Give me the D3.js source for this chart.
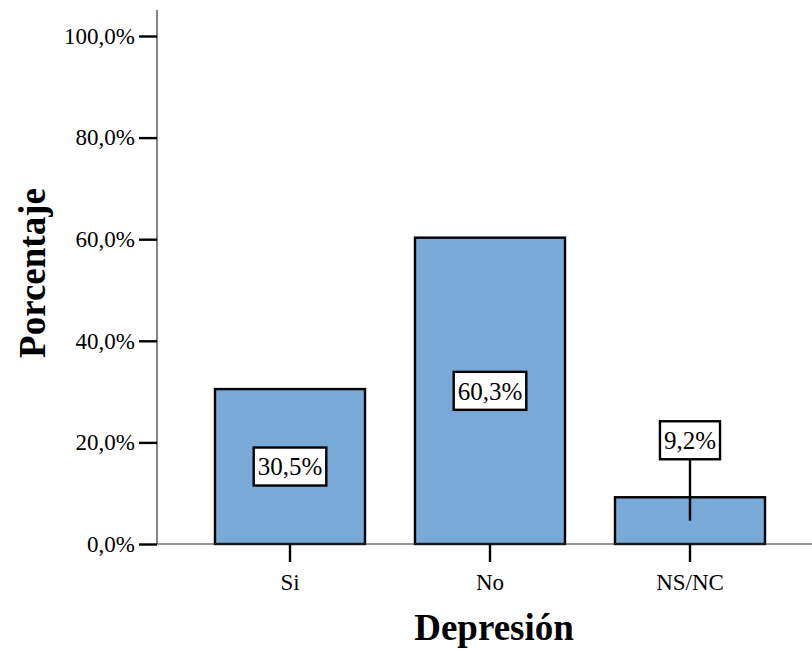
<!DOCTYPE html>
<html>
<head>
<meta charset="utf-8">
<script src="https://cdn.jsdelivr.net/npm/d3@7"></script>
<style>
  body { margin: 0; background: #fff; }
  svg, svg text { font-family: 'Liberation Serif', 'Times New Roman', serif; }
</style>
</head>
<body>
<svg width="812" height="651"></svg>
<script>
var categorias = ["Si", "No", "NS/NC"];
var porcentajes = [30.5, 60.3, 9.2];
var ticksY = [0, 20, 40, 60, 80, 100];

var serif = "'Liberation Serif', 'Times New Roman', serif";
var svg = d3.select("svg");

var es = d3.formatLocale({decimal: ",", thousands: ".", grouping: [3], currency: ["", " €"]});
var fmt = es.format(".1f");

var y = d3.scaleLinear().domain([0, 100]).range([544, 36]);
var x = d3.scaleBand()
    .domain(categorias)
    .range([190, 790])
    .paddingInner(0.25)
    .paddingOuter(0.125);

// ejes
svg.append("line")
    .attr("x1", 157).attr("x2", 157)
    .attr("y1", 10).attr("y2", 544)
    .attr("stroke", "#333").attr("stroke-width", 1.2);

var gy = svg.append("g")
    .attr("transform", "translate(157,0)")
    .call(d3.axisLeft(y).tickValues(ticksY).tickSize(18).tickPadding(4)
        .tickFormat(function(d) { return fmt(d) + "%"; }));
gy.attr("font-family", serif).attr("font-size", 23);
gy.select(".domain").remove();
gy.selectAll(".tick line").attr("stroke", "#000").attr("stroke-width", 2.4);
gy.selectAll(".tick text").attr("fill", "#000");

// barras
svg.selectAll(".bar")
    .data(porcentajes)
    .enter().append("rect")
    .attr("class", "bar")
    .attr("x", function(d, i) { return x(categorias[i]); })
    .attr("y", function(d) { return y(d); })
    .attr("width", x.bandwidth())
    .attr("height", function(d) { return y(0) - y(d); })
    .attr("fill", "#79a9d6")
    .attr("stroke", "#000")
    .attr("stroke-width", 2.4);

svg.append("line")
    .attr("x1", 157).attr("x2", 812)
    .attr("y1", 544).attr("y2", 544)
    .attr("stroke", "#333").attr("stroke-width", 1.2);

var gx = svg.append("g")
    .attr("transform", "translate(0,544)")
    .call(d3.axisBottom(x).tickSize(18).tickPadding(12));
gx.attr("font-family", serif).attr("font-size", 23);
gx.select(".domain").remove();
gx.selectAll(".tick line").attr("stroke", "#000").attr("stroke-width", 2.4);
gx.selectAll(".tick text").attr("fill", "#000");

// etiquetas
var etq = svg.selectAll(".etq")
    .data(porcentajes)
    .enter().append("g")
    .attr("class", "etq");

etq.each(function(d, i) {
    var g = d3.select(this);
    var cx = x(categorias[i]) + x.bandwidth() / 2;
    var medio = (y(d) + y(0)) / 2;
    var alto = y(0) - y(d);
    var cy = alto > 60 ? medio : y(d) - 57;
    var rect = g.append("rect");
    var t = g.append("text")
        .attr("x", cx).attr("y", cy)
        .attr("text-anchor", "middle")
        .attr("dy", "0.35em")
        .attr("font-family", serif)
        .attr("font-size", 25)
        .text(fmt(d) + "%");
    var bb = t.node().getBBox();
    rect.attr("x", cx - bb.width / 2 - 4)
        .attr("y", cy - 19)
        .attr("width", bb.width + 8)
        .attr("height", 38)
        .attr("fill", "#fff")
        .attr("stroke", "#000")
        .attr("stroke-width", 2.4);
    if (alto <= 60) {
        g.insert("line", "rect")
            .attr("x1", cx).attr("x2", cx)
            .attr("y1", cy + 19).attr("y2", medio)
            .attr("stroke", "#000").attr("stroke-width", 2.4);
    }
});

// titulos
svg.append("text")
    .attr("x", 494).attr("y", 640)
    .attr("text-anchor", "middle")
    .attr("font-family", serif)
    .attr("font-size", 37)
    .attr("font-weight", "bold")
    .text("Depresión");

svg.append("text")
    .attr("transform", "translate(45,273) rotate(-90)")
    .attr("text-anchor", "middle")
    .attr("font-family", serif)
    .attr("font-size", 37)
    .attr("font-weight", "bold")
    .text("Porcentaje");
</script>
</body>
</html>
